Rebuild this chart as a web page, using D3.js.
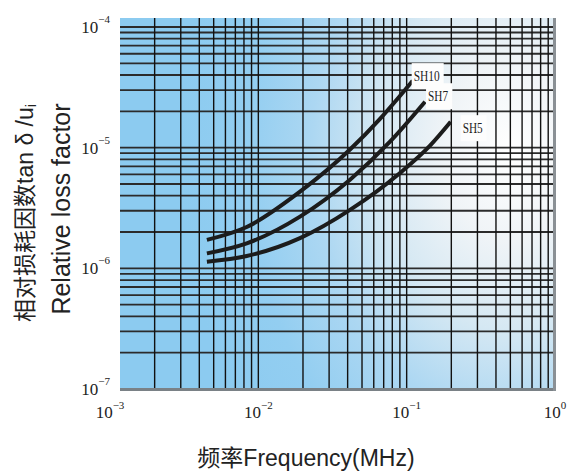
<!DOCTYPE html>
<html><head><meta charset="utf-8">
<script src="https://cdn.jsdelivr.net/npm/d3@7/dist/d3.min.js"></script>
<style>body{margin:0;background:#fff;overflow:hidden}</style>
</head><body>
<svg id="c" width="572" height="473"></svg>
<script>
// ---- data ----
const seriesNames = ["SH10", "SH7", "SH5"];
const freqSH10 = [0.0045, 0.00835, 0.0191, 0.0415, 0.0661, 0.1098];
const lossSH10 = [1.72e-6, 2.20e-6, 4.32e-6, 9.65e-6, 1.735e-5, 3.59e-5];
const freqSH7  = [0.0045, 0.00835, 0.0191, 0.0415, 0.0772, 0.133];
const lossSH7  = [1.33e-6, 1.61e-6, 2.68e-6, 5.42e-6, 1.12e-5, 2.40e-5];
const freqSH5  = [0.0045, 0.00835, 0.0191, 0.0415, 0.0902, 0.1437, 0.198];
const lossSH5  = [1.135e-6, 1.265e-6, 1.78e-6, 3.05e-6, 6.17e-6, 1.04e-5, 1.64e-5];
const xTicks = [1e-3, 1e-2, 1e-1, 1];
const xTickExp = ["−3", "−2", "−1", "0"];
const yTicks = [1e-7, 1e-6, 1e-5, 1e-4];
const yTickExp = ["−7", "−6", "−5", "−4"];
const xTitle = ["频率", "Frequency(MHz)"];
const yTitleCN = "相对损耗因数tan δ /u";
const yTitleSub = "i";
const yTitleEN = "Relative loss factor";

const series = [
  {name: seriesNames[0], x: freqSH10, y: lossSH10, ldx: 1, ldy: -3},
  {name: seriesNames[1], x: freqSH7,  y: lossSH7,  ldx: 3, ldy: -4},
  {name: seriesNames[2], x: freqSH5,  y: lossSH5,  ldx: 12, ldy: 8}
];

// ---- layout ----
const P = {left: 120, top: 18, right: 555, bottom: 389};
const svg = d3.select("#c");
const x = d3.scaleLog().domain([1e-3, 1]).range([110, 555]);
const y = d3.scaleLog().domain([1e-7, 1e-4]).range([389, 27]);

const defs = svg.append("defs");
const grad = defs.append("radialGradient").attr("id", "bg")
  .attr("gradientUnits", "userSpaceOnUse")
  .attr("cx", 0).attr("cy", 0).attr("r", 1)
  .attr("gradientTransform", "translate(510,150) scale(330,450)");
[[0, "#ffffff"], [0.2, "#f0f4f7"], [0.4, "#d5e8f3"], [0.6, "#acd7f2"], [0.8, "#93cef1"], [1, "#8ccbf0"]]
  .forEach(([o, c]) => grad.append("stop").attr("offset", o).attr("stop-color", c));

svg.append("rect").attr("x", P.left).attr("y", P.top)
  .attr("width", P.right - P.left).attr("height", P.bottom - P.top)
  .attr("fill", "url(#bg)");

// grid
const gx = x.ticks().filter(v => x(v) > P.left + 1 && x(v) < P.right - 2);
const gy = y.ticks().filter(v => y(v) > P.top + 1 && y(v) < P.bottom - 2);
svg.append("g").selectAll("line").data(gy).join("line")
  .attr("x1", P.left).attr("x2", P.right)
  .attr("y1", d => y(d)).attr("y2", d => y(d))
  .attr("stroke", "#2b2b2b").attr("stroke-width", 1.8);
svg.append("g").selectAll("line").data(gx).join("line")
  .attr("y1", P.top).attr("y2", P.bottom)
  .attr("x1", d => x(d)).attr("x2", d => x(d))
  .attr("stroke", "#111").attr("stroke-width", 1.4);

// frame shadow edges
svg.append("rect").attr("x", P.left).attr("y", P.bottom - 1).attr("width", P.right - P.left + 1).attr("height", 3).attr("fill", "#7a8186");
svg.append("rect").attr("x", P.right - 2).attr("y", P.top).attr("width", 3).attr("height", P.bottom - P.top + 2).attr("fill", "#8a9095");

// curves
const line = d3.line().x(d => x(d[0])).y(d => y(d[1])).curve(d3.curveMonotoneX);
svg.append("g").selectAll("path").data(series).join("path")
  .attr("d", s => line(s.x.map((v, i) => [v, s.y[i]])))
  .attr("fill", "none").attr("stroke", "#1c1c1c").attr("stroke-width", 4).attr("stroke-linecap", "butt");

// curve labels
const lg = svg.append("g");
series.forEach(s => {
  const n = s.x.length - 1;
  const g = lg.append("g");
  const t = g.append("text")
    .attr("x", x(s.x[n]) + s.ldx).attr("y", y(s.y[n]) + s.ldy)
    .attr("dominant-baseline", "middle")
    .attr("font-family", "Liberation Serif, Times New Roman, serif")
    .attr("font-size", 15).attr("fill", "#222")
    .attr("textLength", s.name.length === 4 ? 26 : 20).attr("lengthAdjust", "spacingAndGlyphs")
    .text(s.name);
  const b = t.node().getBBox();
  g.insert("rect", "text").attr("x", b.x - 2).attr("y", b.y - 5)
    .attr("width", b.width + 6).attr("height", b.height + 10).attr("fill", "#fdfdfd");
});

// tick labels
const serif = "Liberation Serif, Times New Roman, serif";
const xl = svg.append("g").attr("font-family", serif).attr("fill", "#222");
xTicks.forEach((v, i) => {
  const t = xl.append("text").attr("x", x(v)).attr("y", 418).attr("text-anchor", "middle").attr("font-size", 17);
  t.append("tspan").text("10");
  t.append("tspan").attr("font-size", 11).attr("dy", -9).text(xTickExp[i]);
});
const yl = svg.append("g").attr("font-family", serif).attr("fill", "#222");
yTicks.forEach((v, i) => {
  const t = yl.append("text").attr("x", 110).attr("y", y(v) + 6).attr("text-anchor", "end").attr("font-size", 17);
  t.append("tspan").text("10");
  t.append("tspan").attr("font-size", 11).attr("dy", -10).text(yTickExp[i]);
});

// axis titles
const sans = "Liberation Sans, Arial, Noto Sans CJK SC, sans-serif";
const xt = svg.append("text").attr("x", 306).attr("y", 466).attr("text-anchor", "middle")
  .attr("font-family", sans).attr("font-size", 23).attr("fill", "#222");
xt.append("tspan").attr("font-family", "Noto Sans CJK SC").text(xTitle[0]);
xt.append("tspan").text(xTitle[1]);

const yt1 = svg.append("text").attr("transform", "translate(33,213) rotate(-90)").attr("text-anchor", "middle")
  .attr("font-family", sans).attr("font-size", 23).attr("fill", "#222");
yt1.append("tspan").text(yTitleCN);
yt1.append("tspan").attr("font-size", 14).attr("dy", 3).text(yTitleSub);

svg.append("text").attr("transform", "translate(70,209) rotate(-90)").attr("text-anchor", "middle")
  .attr("font-family", sans).attr("font-size", 25).attr("fill", "#222").text(yTitleEN);
</script>
</body></html>
